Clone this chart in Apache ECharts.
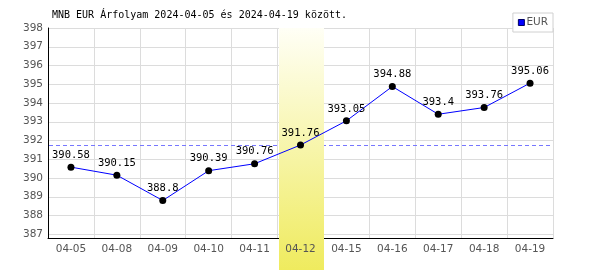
<!DOCTYPE html>
<html>
<head>
<meta charset="utf-8">
<script src="https://cdn.jsdelivr.net/npm/echarts@6/dist/echarts.min.js"></script>
<style>html,body{margin:0;padding:0;background:#fff;}#c{width:600px;height:270px;}</style>
</head>
<body>
<div id="c"></div>
<script>
const titleText = 'MNB EUR Árfolyam 2024-04-05 és 2024-04-19 között.';
const seriesName = 'EUR';
const categories = ['04-05','04-08','04-09','04-10','04-11','04-12','04-15','04-16','04-17','04-18','04-19'];
const values = [390.58, 390.15, 388.8, 390.39, 390.76, 391.76, 393.05, 394.88, 393.4, 393.76, 395.06];
const yTicks = [387, 388, 389, 390, 391, 392, 393, 394, 395, 396, 397, 398];
const highlightIndex = 5;
const yMin = 386.8, yMax = 398;

const chart = echarts.init(document.getElementById('c'), null, {renderer: 'canvas'});
const sans = 'DejaVu Sans';
const mono = 'DejaVu Sans Mono';

chart.setOption({
  animation: false,
  backgroundColor: '#fff',
  title: {
    text: titleText, left: 52, top: 10, padding: 0,
    textStyle: {fontFamily: mono, fontSize: 10, fontWeight: 'normal', color: '#000'}
  },
  legend: {
    data: [{name: seriesName, icon: 'rect'}],
    right: 47, top: 13,
    padding: [4, 5, 4, 5],
    itemWidth: 6, itemHeight: 6,
    backgroundColor: '#fff', borderColor: '#d0d0d0', borderWidth: 1,
    textStyle: {fontFamily: sans, fontSize: 10.5, color: '#555', padding: [0,0,0,-3]},
    itemStyle: {color: '#0000ff', borderColor: '#000066', borderWidth: 1}
  },
  grid: {left: 48, right: 47, top: 28, bottom: 32},
  xAxis: [{
    type: 'category', data: categories, boundaryGap: true, position: 'bottom', z: 0,
    axisLine: {show: true, lineStyle: {color: '#000', width: 1}},
    axisTick: {show: false},
    axisLabel: {show: false},
    splitLine: {show: true, lineStyle: {color: '#dcdcdc', width: 1}}
  }, {
    type: 'category', data: categories, boundaryGap: true, position: 'bottom', z: 5,
    axisLine: {show: false}, axisTick: {show: false}, splitLine: {show: false},
    axisLabel: {show: true, margin: 6, fontFamily: sans, fontSize: 10.5, color: '#555'}
  }],
  yAxis: {
    type: 'value', min: yMin, max: yMax, z: 0,
    axisLine: {show: true, lineStyle: {color: '#000', width: 1}},
    axisTick: {show: false, customValues: yTicks},
    axisLabel: {customValues: yTicks, margin: 5, fontFamily: sans, fontSize: 10.5, color: '#555'},
    splitLine: {show: true, lineStyle: {color: '#dcdcdc', width: 1}}
  },
  series: [{
    name: seriesName, type: 'line', data: values, xAxisIndex: 0, z: 3,
    symbol: 'circle', symbolSize: 7,
    itemStyle: {color: '#000'},
    lineStyle: {color: '#0000ff', width: 1},
    label: {show: true, position: 'top', distance: 3, fontFamily: mono, fontSize: 10.5, color: '#000'}
  }]
});

// highlight band and reference line, placed via the axis scales
const cx = chart.convertToPixel({xAxisIndex: 0}, categories[highlightIndex]);
const cxPrev = chart.convertToPixel({xAxisIndex: 0}, categories[highlightIndex - 1]);
const half = (cx - cxPrev) / 2;
const topY = chart.convertToPixel({yAxisIndex: 0}, yMax);
const refY = Math.round(chart.convertToPixel({yAxisIndex: 0}, values[highlightIndex])) + 0.5;
const leftX = chart.convertToPixel({xAxisIndex: 0}, categories[0]) - half;
const rightX = chart.convertToPixel({xAxisIndex: 0}, categories[categories.length - 1]) + half;
const bottomY = chart.getHeight();
chart.setOption({
  graphic: [{
    type: 'line', z: 0, silent: true,
    shape: {x1: leftX + 1, y1: refY, x2: rightX, y2: refY},
    style: {stroke: '#7777ff', lineWidth: 1, lineDash: [4, 3]}
  }, {
    type: 'rect', z: 1, silent: true,
    shape: {x: Math.round(cx - half) + 1, y: Math.round(topY), width: Math.round(2 * half) - 1, height: bottomY - Math.round(topY)},
    style: {fill: new echarts.graphic.LinearGradient(0, 0, 0, 1, [
      {offset: 0, color: '#fffff6'},
      {offset: 1, color: '#efeb5e'}
    ])}
  }]
});
</script>
</body>
</html>
